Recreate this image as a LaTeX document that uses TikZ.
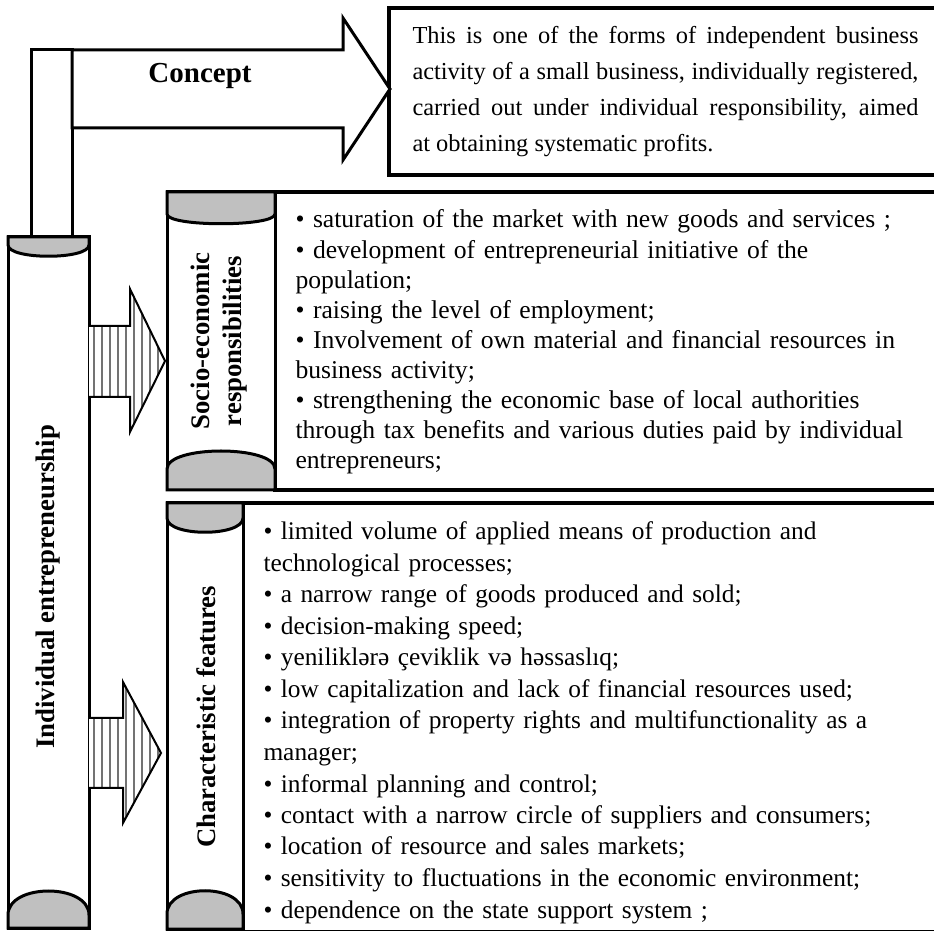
\documentclass[tikz,border=0pt]{standalone}
\usepackage{fontspec}
\setmainfont{Liberation Serif}
\definecolor{capgray}{RGB}{192,192,192}

\begin{document}
\begin{tikzpicture}[x=0.4pt,y=0.4pt,yscale=-1,xscale=1,
  outline/.style={draw=black,line width=1.2pt,fill=white},
  textbox/.style={draw=black,line width=1.4pt,fill=white},
  capshape/.style={draw=black,line width=1.2pt,fill=capgray},
  stripe/.style={draw=black!55,line width=0.8pt},
  arrowedge/.style={draw=black,line width=0.8pt},
  bodytext/.style={inner sep=0pt,anchor=base west},
  headtext/.style={inner sep=0pt,rotate=90,align=center,font=\fontsize{10.7}{12.8}\selectfont\bfseries}]
\useasboundingbox (0,0) rectangle (934,931);

%Shape: Rectangle [concept box]
\draw[textbox] (389,8) rectangle (945,175);
%Shape: Rectangle [responsibilities box]
\draw[textbox] (275,192) rectangle (945,490);
%Shape: Rectangle [features box]
\draw[textbox] (243,503) rectangle (945,932);

%Shape: Rectangle [stem]
\draw[outline] (31,50) rectangle (72,237);
%Shape: Right Arrow
\draw[outline] (72,50) -- (343,50) -- (343,18) -- (390,89) -- (343,160) -- (343,128) -- (72,128) -- cycle;

%Shape: Scroll [left]
\draw[outline] (8,237) rectangle (89,928);
\draw[capshape] (8,237) -- (89,237) -- (89,245) .. controls (89,260) and (8,260) .. (8,245) -- cycle;
\draw[capshape] (8,928) -- (8,915) .. controls (8,883) and (89,883) .. (89,915) -- (89,928) -- cycle;

%Shape: Scroll [middle top]
\draw[outline] (167,192) rectangle (275,490);
\draw[capshape] (167,192) -- (275,192) -- (275,214) .. controls (275,227) and (167,227) .. (167,214) -- cycle;
\draw[capshape] (167,490) -- (167,469) .. controls (167,445) and (275,445) .. (275,469) -- (275,490) -- cycle;

%Shape: Scroll [middle bottom]
\draw[outline] (167,503) rectangle (243,929);
\draw[capshape] (167,503) -- (243,503) -- (243,518) .. controls (243,537) and (167,537) .. (167,518) -- cycle;
\draw[capshape] (167,929) -- (167,914) .. controls (167,883) and (243,883) .. (243,914) -- (243,929) -- cycle;

%Shape: Striped Right Arrow [upper]
\fill[white] (89,326) -- (130,326) -- (130,289) -- (165,361) -- (130,432) -- (130,397) -- (89,397) -- cycle;
\begin{scope}
\clip (89,326) -- (130,326) -- (130,289) -- (165,361) -- (130,432) -- (130,397) -- (89,397) -- cycle;
\foreach \xs in {94,102,...,166} \draw[stripe] (\xs,280) -- (\xs,440);
\end{scope}
\draw[arrowedge] (89,326) -- (130,326) -- (130,289) -- (165,361) -- (130,432) -- (130,397) -- (89,397);

%Shape: Striped Right Arrow [lower]
\fill[white] (89,718) -- (123,718) -- (123,682) -- (161,753) -- (123,823) -- (123,788) -- (89,788) -- cycle;
\begin{scope}
\clip (89,718) -- (123,718) -- (123,682) -- (161,753) -- (123,823) -- (123,788) -- (89,788) -- cycle;
\foreach \xs in {94,102,...,166} \draw[stripe] (\xs,670) -- (\xs,830);
\end{scope}
\draw[arrowedge] (89,718) -- (123,718) -- (123,682) -- (161,753) -- (123,823) -- (123,788) -- (89,788);

% Text Node
\draw (200,76) node (concept) [font=\fontsize{11.6}{14}\selectfont\bfseries] {Concept};
% Text Node
\draw (412,44) node (definition) [bodytext,text width=202.4pt,align=justify,font=\fontsize{9.76}{14.4}\selectfont] {This is one of the forms of independent business\linebreak activity of a small business, individually registered,\linebreak carried out under individual responsibility, aimed\linebreak at obtaining systematic profits.};
% Text Node
\draw (48,587) node (individual) [headtext] {Individual entrepreneurship};
% Text Node
\draw (219,341) node (socio) [headtext] {Socio-economic\\responsibilities};
% Text Node
\draw (206,717) node (characteristic) [headtext] {Characteristic features};
% Text Node
\draw (295,228) node (duties) [bodytext,text width=262pt,align=left,font=\fontsize{10.25}{12.04}\selectfont] {• saturation of the market with new goods and services ;\\
• development of entrepreneurial initiative of the\\
population;\\
• raising the level of employment;\\
• Involvement of own material and financial resources in\\
business activity;\\
• strengthening the economic base of local authorities\\
through tax benefits and various duties paid by individual\\
entrepreneurs;};
% Text Node
\draw (263,540) node (features) [bodytext,text width=268pt,align=left,font=\fontsize{10.15}{12.6}\selectfont] {• limited volume of applied means of production and\\
technological processes;\\
• a narrow range of goods produced and sold;\\
• decision-making speed;\\
• yeniliklərə çeviklik və həssaslıq;\\
• low capitalization and lack of financial resources used;\\
• integration of property rights and multifunctionality as a\\
manager;\\
• informal planning and control;\\
• contact with a narrow circle of suppliers and consumers;\\
• location of resource and sales markets;\\
• sensitivity to fluctuations in the economic environment;\\
• dependence on the state support system ;};

\end{tikzpicture}
\end{document}
